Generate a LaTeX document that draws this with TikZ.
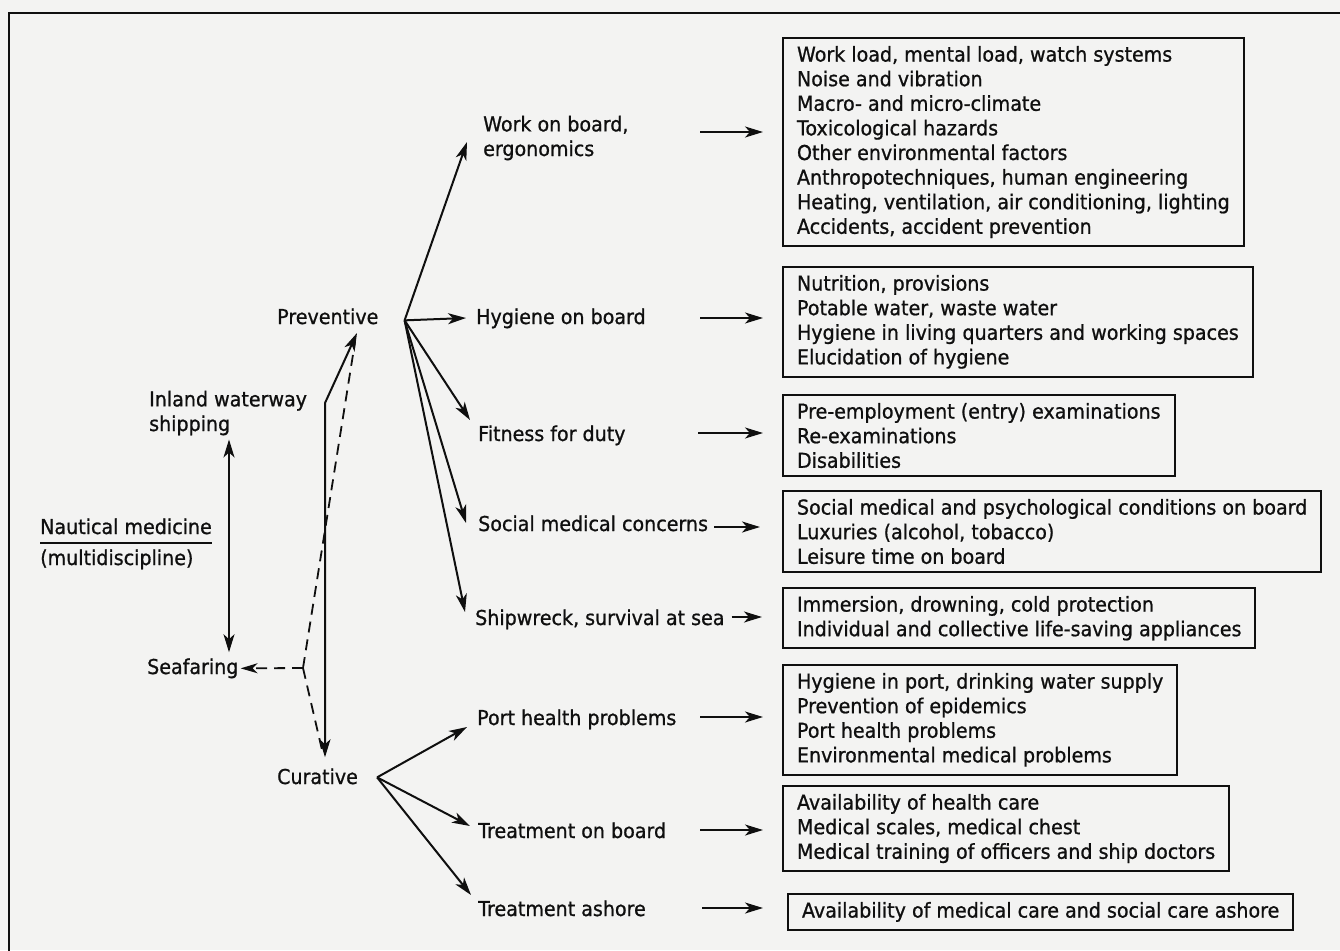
\documentclass[tikz,border=0pt]{standalone}
\usepackage{fontspec}
\setmainfont{DejaVu Sans}[FakeStretch=0.93,FakeBold=0.9]
\usetikzlibrary{calc}
\usetikzlibrary{positioning}
\usetikzlibrary{arrows.meta}

\definecolor{paper}{RGB}{243,243,242}
\definecolor{ink}{RGB}{15,15,15}

\tikzset{
  lbl/.style={anchor=base west,inner sep=0pt,align=left,text=ink},
  topicbox/.style={draw=ink,line width=2pt,anchor=north west,align=left,
    inner xsep=14pt,inner ysep=8pt,text=ink},
  arr/.style={draw=ink,line width=2pt,-{Stealth[length=18pt,width=11pt,inset=5pt]}},
  arrboth/.style={draw=ink,line width=2pt,
    {Stealth[length=18pt,width=11pt,inset=5pt]}-{Stealth[length=18pt,width=11pt,inset=5pt]}},
  dashline/.style={draw=ink,line width=1.8pt,dash pattern=on 11pt off 7pt},
}

\begin{document}
\begin{tikzpicture}[x=1pt,y=-1pt,font=\fontsize{20.5}{24.6}\selectfont]
  \fill[paper] (0,0) rectangle (1340,950);
  \useasboundingbox (0,0) rectangle (1340,950);
  \draw[ink,line width=2.6pt] (9,960) -- (9,13) -- (1350,13);

  % left part
  \node[lbl] (naut) at (40,534) {Nautical medicine};
  \node[lbl] (multi) at (40,565) {(multidiscipline)};
  \draw[ink,line width=1.8pt] ($(naut.base west)+(0,9)$) -- ($(naut.base east)+(0,9)$);
  \node[lbl] (inland) at (149,431) {Inland waterway\\shipping};
  \node[lbl] (sea) at (147,674) {Seafaring};
  \node[lbl] (prev) at (277,324) {Preventive};
  \node[lbl] (cur) at (277,784) {Curative};

  \draw[arrboth] ($(inland.south west)+(80,4)$) -- ($(sea.north west)+(82,-6)$);
  \coordinate (kink) at (325,403);
  \coordinate (fork) at (303,668);
  \draw[arrboth] ($(prev.base west)+(80,9)$) -- (kink) -- ($(cur.north -| kink)+(0,-11)$);
  \draw[dashline,-{Stealth[length=17pt,width=10pt,inset=5pt]}] (fork) -- ($(sea.east)+(2,0)$);
  \draw[dashline] (fork) -- ($(prev.base west)+(78,18)$);
  \draw[dashline] (fork) -- ($(cur.north -| kink)+(-2,-14)$);

  % middle labels
  \node[lbl] (work) at (483,156) {Work on board,\\ergonomics};
  \node[lbl] (hyg) at (476,324) {Hygiene on board};
  \node[lbl] (fit) at (478,441) {Fitness for duty};
  \node[lbl] (soc) at (478,531) {Social medical concerns};
  \node[lbl] (ship) at (475,625) {Shipwreck, survival at sea};
  \node[lbl] (port) at (477,725) {Port health problems};
  \node[lbl] (tob) at (478,838) {Treatment on board};
  \node[lbl] (tas) at (478,916) {Treatment ashore};

  \coordinate (pv) at ($(prev.east)+(26,4)$);
  \coordinate (cv) at ($(cur.east)+(19,1)$);
  \draw[arr] (pv) -- ($(work.base west)+(-16,-14)$);
  \draw[arr] (pv) -- ($(hyg.base west)+(-10,-6)$);
  \draw[arr] (pv) -- ($(fit.base west)+(-8,-21)$);
  \draw[arr] (pv) -- ($(soc.base west)+(-12,-8)$);
  \draw[arr] (pv) -- ($(ship.base west)+(-10,-13)$);
  \draw[arr] (cv) -- ($(port.base west)+(-10,2)$);
  \draw[arr] (cv) -- ($(tob.base west)+(-8,-12)$);
  \draw[arr] (cv) -- ($(tas.base west)+(-7,-21)$);

  % topic boxes
  \node[topicbox] (b1) at (782,37) {Work load, mental load, watch systems\\
    Noise and vibration\\
    Macro- and micro-climate\\
    Toxicological hazards\\
    Other environmental factors\\
    Anthropotechniques, human engineering\\
    Heating, ventilation, air conditioning, lighting\\
    Accidents, accident prevention};
  \node[topicbox] (b2) at (782,266) {Nutrition, provisions\\
    Potable water, waste water\\
    Hygiene in living quarters and working spaces\\
    Elucidation of hygiene};
  \node[topicbox] (b3) at (782,394) {Pre-employment (entry) examinations\\
    Re-examinations\\
    Disabilities};
  \node[topicbox] (b4) at (782,490) {Social medical and psychological conditions on board\\
    Luxuries (alcohol, tobacco)\\
    Leisure time on board};
  \node[topicbox] (b5) at (782,587) {Immersion, drowning, cold protection\\
    Individual and collective life-saving appliances};
  \node[topicbox] (b6) at (782,664) {Hygiene in port, drinking water supply\\
    Prevention of epidemics\\
    Port health problems\\
    Environmental medical problems};
  \node[topicbox] (b7) at (782,785) {Availability of health care\\
    Medical scales, medical chest\\
    Medical training of officers and ship doctors};
  \node[topicbox] (b8) at (787,893) {Availability of medical care and social care ashore};

  \draw[arr] ($(work.base west -| b1.west)+(-82,-24)$) -- ++(63,0);
  \draw[arr] ($(hyg.base west -| b2.west)+(-82,-6)$) -- ++(63,0);
  \draw[arr] ($(fit.base west -| b3.west)+(-84,-8)$) -- ++(65,0);
  \draw[arr] ($(soc.base east)+(6,-4)$) -- ($(soc.base east -| b4.west)+(-22,-4)$);
  \draw[arr] ($(ship.base east)+(7,-8)$) -- ($(ship.base east -| b5.west)+(-20,-8)$);
  \draw[arr] ($(port.base west -| b6.west)+(-82,-8)$) -- ++(63,0);
  \draw[arr] ($(tob.base west -| b7.west)+(-82,-8)$) -- ++(63,0);
  \draw[arr] ($(tas.base west -| b8.west)+(-85,-8)$) -- ++(61,0);
\end{tikzpicture}
\end{document}
